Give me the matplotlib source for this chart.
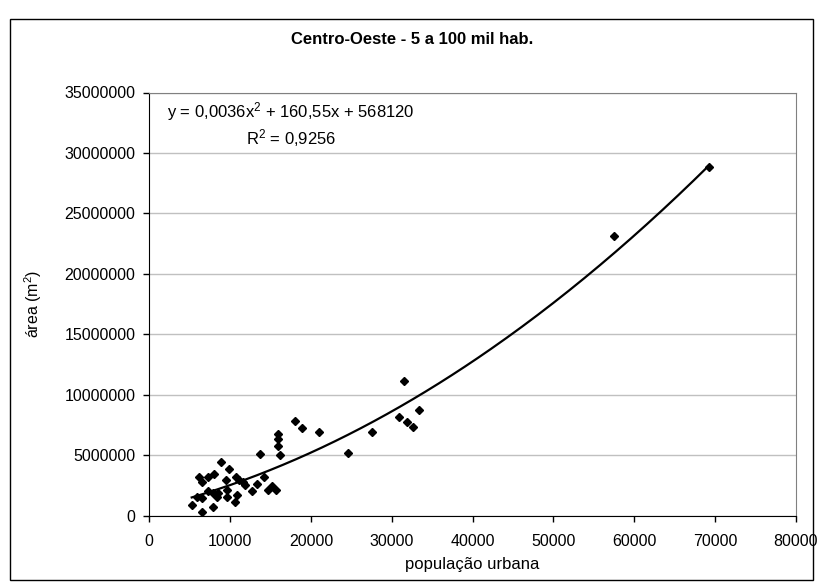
import numpy as np
import matplotlib
matplotlib.use("Agg")
import matplotlib.pyplot as plt
from matplotlib.patches import Rectangle
from matplotlib.ticker import FuncFormatter

plt.rcParams['font.family'] = ['Liberation Sans', 'DejaVu Sans']
plt.rcParams['mathtext.fontset'] = 'custom'
plt.rcParams['mathtext.rm'] = 'Liberation Sans'
plt.rcParams['mathtext.it'] = 'Liberation Sans'

# dados (população urbana x área em m2)
pop = [5250, 6560, 5870, 6490, 6190, 6490, 7300, 8040, 8840, 9900,
       7300, 7920, 8340, 7850, 8540, 9490, 9580, 9650, 10610, 10820,
       10730, 11140, 11630, 11840, 12670, 13290, 14230, 13700, 14730, 15150,
       15680, 15890, 15970, 15890, 16180, 18030, 18940, 21040, 31560, 33420,
       30900, 31930, 32600, 27520, 24550, 57550, 69310]
area = [890000, 330000, 1550000, 1460000, 3230000, 2810000, 3230000, 3420000, 4420000, 3860000,
        2040000, 1850000, 1520000, 740000, 1850000, 2950000, 2130000, 1520000, 1160000, 1710000,
        3230000, 2950000, 2810000, 2540000, 2040000, 2600000, 3230000, 5100000, 2130000, 2460000,
        2130000, 6730000, 6320000, 5770000, 5020000, 7860000, 7280000, 6920000, 11140000, 8740000,
        8190000, 7730000, 7360000, 6950000, 5160000, 23130000, 28870000]

# linha de tendência polinomial (coeficientes da equação do gráfico)
coef = [0.0036, 160.55, 568120]

titulo = "Centro-Oeste - 5 a 100 mil hab."
eq_txt = "y = 0,0036x$^2$ + 160,55x + 568120"
r2_txt = "R$^2$ = 0,9256"

W, H = 824, 587
fig = plt.figure(figsize=(W / 100, H / 100), dpi=100)

# moldura externa do gráfico
fig.patches.append(Rectangle((10 / W, 1 - 580 / H), 803 / W, 561 / H,
                             transform=fig.transFigure, fill=False,
                             edgecolor='black', linewidth=1))

ax = fig.add_axes([149.3 / W, 1 - 515.7 / H, (795.7 - 149.3) / W, (515.7 - 92.5) / H])

ax.plot(pop, area, linestyle='none', marker='D', markersize=4.3,
        color='black', zorder=3)

xs = np.linspace(min(pop), max(pop), 200)
ax.plot(xs, np.polyval(coef, xs), color='black', linewidth=1.6, zorder=2)

ax.set_xlim(0, 80000)
ax.set_ylim(0, 35000000)
ax.set_xticks(range(0, 80001, 10000))
ax.set_yticks(range(0, 35000001, 5000000))
ax.yaxis.set_major_formatter(FuncFormatter(lambda v, p: "%d" % v))
ax.grid(axis='y', color='#c0c0c0', linewidth=1)
ax.set_axisbelow(True)
ax.tick_params(direction='out', length=4, width=1, labelsize=11.5)
ax.tick_params(axis='x', pad=9)
ax.tick_params(axis='y', pad=6)

for s in ['top', 'right']:
    ax.spines[s].set_color('#808080')
for s in ['left', 'bottom']:
    ax.spines[s].set_color('black')

ax.set_xlabel("população urbana", fontsize=12, labelpad=6)
fig.text(33.5 / W, 1 - 304 / H, "área (m$^2$)", rotation=90,
         ha='center', va='center', fontsize=11.5)

fig.text(412 / W, 1 - 39 / H, titulo, ha='center', va='center',
         fontsize=12, fontweight='bold')
fig.text(291 / W, 1 - 111.7 / H, eq_txt, ha='center', va='center', fontsize=12)
fig.text(291 / W, 1 - 137.7 / H, r2_txt, ha='center', va='center', fontsize=12)

fig.savefig("out.png", dpi=100)
